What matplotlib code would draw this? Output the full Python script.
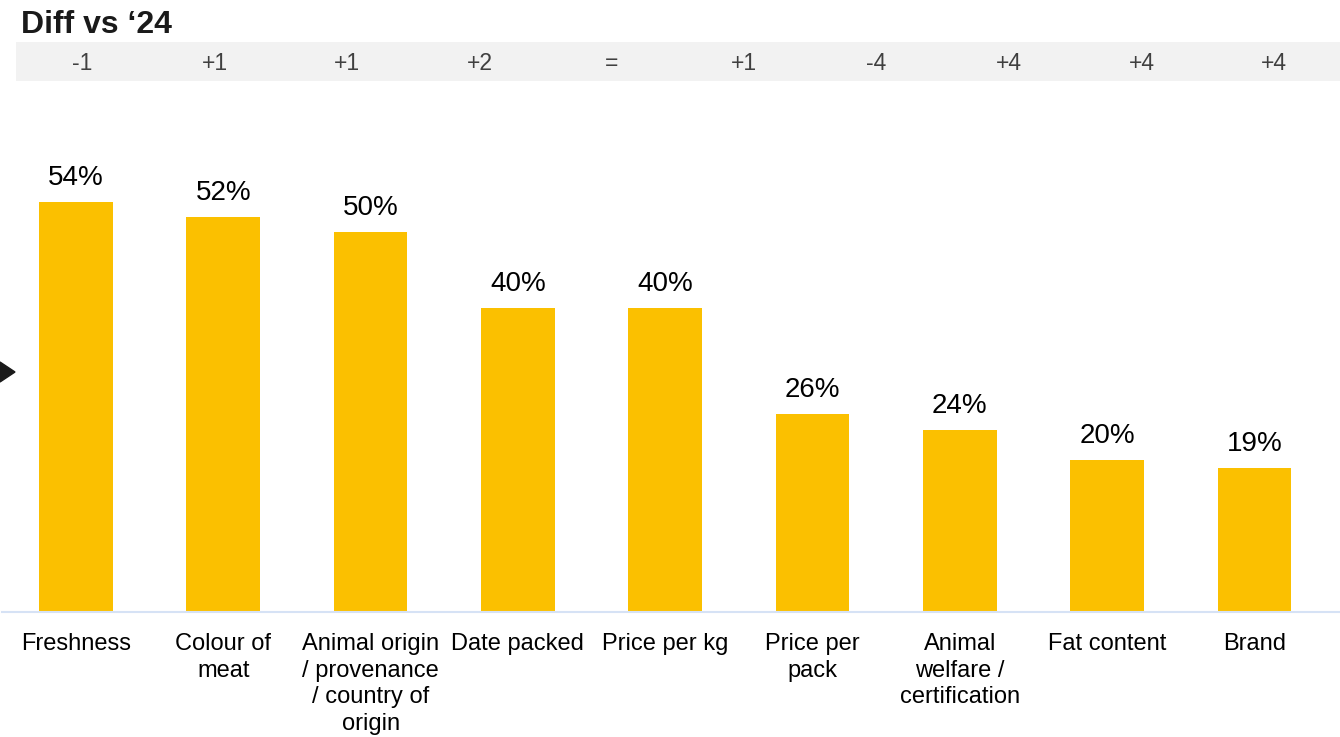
import matplotlib.pyplot as plt
from matplotlib.patches import Polygon

plt.rcParams['font.family'] = ['Liberation Sans', 'DejaVu Sans']

categories = ['Freshness', 'Colour of\nmeat', 'Animal origin\n/ provenance\n/ country of\norigin',
              'Date packed', 'Price per kg', 'Price per\npack', 'Animal\nwelfare /\ncertification',
              'Fat content', 'Brand']
values = [54, 52, 50, 40, 40, 26, 24, 20, 19]
diffs = ['-1', '+1', '+1', '+2', '=', '+1', '-4', '+4', '+4', '+4']

W, H = 1340, 737
fig = plt.figure(figsize=(W / 100, H / 100), dpi=100)

# main bar chart
ax = fig.add_axes([2 / W, 1 - 612 / H, 1338 / W, 512 / H])
x = list(range(len(values)))
ax.bar(x, values, width=0.5, color='#FBC000')
for xi, v in zip(x, values):
    ax.annotate(f'{v}%', (xi, v), xytext=(0, 8), textcoords='offset points',
                ha='center', va='bottom', fontsize=20, color='black')
ax.set_xlim(-0.502, 8.58)
ax.set_ylim(0, 67.4)
ax.set_xticks(x)
ax.set_xticklabels(categories, fontsize=17, linespacing=1.28)
ax.tick_params(axis='x', length=0, pad=15)
ax.set_yticks([])
for s in ['top', 'left', 'right']:
    ax.spines[s].set_visible(False)
ax.spines['bottom'].set_color('#D6E2F5')
ax.spines['bottom'].set_linewidth(1.5)

# diff band
bx = fig.add_axes([16 / W, 1 - 81 / H, 1324 / W, 39 / H])
bx.set_facecolor('#F2F2F2')
bx.set_xlim(0, len(diffs))
bx.set_ylim(0, 1)
for i, d in enumerate(diffs):
    bx.text(i + 0.5, 0.28, d, ha='center', va='baseline', fontsize=16.5, color='#404040')
bx.set_xticks([])
bx.set_yticks([])
for s in bx.spines.values():
    s.set_visible(False)

fig.text(21 / W, 1 - 33 / H, 'Diff vs \u201824', fontsize=23, fontweight='bold',
         color='#1A1A1A', ha='left', va='baseline')

fig.add_artist(Polygon([(0, 1 - 362 / H), (15 / W, 1 - 372 / H), (0, 1 - 382 / H)],
                       closed=True, transform=fig.transFigure, color='#1A1A1A'))

fig.savefig('out.png', dpi=100)
